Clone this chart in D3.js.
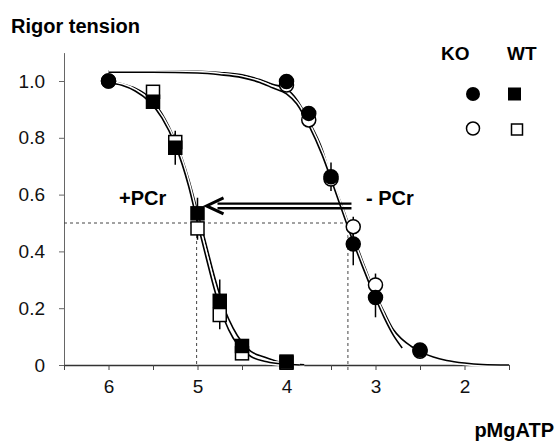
<!DOCTYPE html>
<html lang="en">
<head>
<meta charset="utf-8">
<title>Rigor tension vs pMgATP</title>
<script src="https://d3js.org/d3.v7.min.js"></script>
<style>
  body { margin: 0; background: #fff; }
  text { font-family: "Liberation Sans", Arial, sans-serif; }
</style>
</head>
<body>
<svg width="559" height="447"></svg>
<script>
// ---- data ----
var xTicks = [6.5, 6, 5.5, 5, 4.5, 4, 3.5, 3, 2.5, 2, 1.5];
var xLabels = [6, 5, 4, 3, 2];
var yTicks = [0, 0.2, 0.4, 0.6, 0.8, 1.0];

// +PCr (squares)
var sqFillP = [5.5, 5.25, 5.0, 4.75, 4.5, 4.0];
var sqFillV = [0.927, 0.765, 0.534, 0.226, 0.067, 0.012];
var sqFillE = [0.01, 0.06, 0.055, 0.075, 0.02, 0];
var sqOpenP = [5.5, 5.25, 5.0, 4.75, 4.5, 4.0];
var sqOpenV = [0.962, 0.785, 0.481, 0.176, 0.041, 0.008];
var sqOpenE = [0, 0.03, 0.04, 0.05, 0.01, 0];

// -PCr (circles)
var ciFillP = [6.0, 4.0, 3.75, 3.5, 3.25, 3.0, 2.5];
var ciFillV = [1.0, 0.998, 0.886, 0.663, 0.426, 0.238, 0.053];
var ciFillE = [0, 0, 0.01, 0.05, 0.075, 0.07, 0];
var ciOpenP = [6.0, 4.0, 3.75, 3.5, 3.25, 3.0, 2.5];
var ciOpenV = [1.0, 0.986, 0.863, 0.655, 0.487, 0.282, 0.048];
var ciOpenE = [0, 0, 0, 0, 0.035, 0.04, 0];

// fitted curves (traced)
var fitL1 = [[6.0,1.0],[5.85,0.99],[5.7,0.975],[5.55,0.945],[5.4,0.885],[5.25,0.79],[5.1,0.655],[5.0,0.54],[4.9,0.42],[4.8,0.3],[4.7,0.2],[4.6,0.13],[4.5,0.08],[4.4,0.048],[4.25,0.028],[4.1,0.012],[3.95,0.004],[3.8,0.001]];
var fitL2 = [[6.0,0.995],[5.85,0.985],[5.7,0.965],[5.55,0.93],[5.4,0.87],[5.25,0.775],[5.1,0.63],[5.0,0.5],[4.9,0.375],[4.8,0.255],[4.7,0.16],[4.6,0.095],[4.5,0.055],[4.4,0.03],[4.25,0.013],[4.1,0.005],[3.95,0.002],[3.85,0.0]];
var fitR1 = [[6.0,1.036],[5.5,1.036],[5.0,1.034],[4.75,1.03],[4.5,1.022],[4.3,1.005],[4.15,0.988],[4.0,0.972],[3.886,0.935],[3.75,0.86],[3.6,0.76],[3.5,0.66],[3.4,0.58],[3.27,0.47],[3.15,0.37],[3.0,0.25],[2.9,0.185],[2.8,0.125],[2.7,0.09],[2.6,0.066],[2.5,0.047],[2.35,0.028],[2.2,0.016],[2.0,0.007],[1.8,0.002],[1.5,0.0]];
var fitR2 = [[6.0,1.031],[5.5,1.031],[5.0,1.028],[4.75,1.022],[4.5,1.012],[4.3,0.995],[4.15,0.975],[4.0,0.955],[3.886,0.92],[3.75,0.845],[3.6,0.74],[3.5,0.655],[3.4,0.565],[3.27,0.45],[3.15,0.35],[3.0,0.235],[2.9,0.165],[2.8,0.105],[2.7,0.06]];

var halfP = [5.01, 3.31];   // pMgATP at half tension
var arrowP = [3.27, 4.91];  // arrow from -> to
var arrowV = 0.56;

// ---- scales ----
var svg = d3.select("svg");
var x = d3.scaleLinear().domain([6.5, 1.5]).range([64, 509]);
var y = d3.scaleLinear().domain([0, 1.1]).range([365, 52.6]);

// axes
var yAxis = svg.append("g")
    .attr("transform", "translate(64,0)")
    .call(d3.axisLeft(y).tickValues(yTicks).tickSize(5).tickSizeOuter(0)
        .tickFormat(function (d) { return d === 0 ? "0" : d3.format(".1f")(d); }));
yAxis.select(".domain").attr("stroke", "#666");
yAxis.selectAll(".tick line").attr("stroke", "#666");
yAxis.selectAll(".tick text").attr("font-size", 19).attr("fill", "#111").attr("x", -19)
    .attr("font-family", "Liberation Sans, Arial, sans-serif");

var xAxis = svg.append("g")
    .attr("transform", "translate(0,365)")
    .call(d3.axisBottom(x).tickValues(xTicks).tickSize(5).tickSizeOuter(0)
        .tickFormat(function (d) { return xLabels.indexOf(d) >= 0 ? d : ""; }));
xAxis.select(".domain").attr("stroke", "#333").attr("stroke-width", 1.5);
xAxis.selectAll(".tick line").attr("stroke", "#444");
xAxis.selectAll(".tick text").attr("font-size", 19).attr("fill", "#111").attr("y", 15)
    .attr("font-family", "Liberation Sans, Arial, sans-serif");

// dashed guides
var guide = svg.append("g").attr("stroke", "#444").attr("stroke-dasharray", "3,3").attr("stroke-width", 1);
guide.append("line").attr("x1", x(6.5)).attr("x2", x(halfP[1])).attr("y1", y(0.5)).attr("y2", y(0.5));
guide.append("line").attr("x1", x(halfP[0])).attr("x2", x(halfP[0])).attr("y1", y(0.5)).attr("y2", y(0));
guide.append("line").attr("x1", x(halfP[1])).attr("x2", x(halfP[1])).attr("y1", y(0.5)).attr("y2", y(-0.02));

// fitted curves with white halo
var line = d3.line().x(function (d) { return x(d[0]); }).y(function (d) { return y(d[1]); })
    .curve(d3.curveMonotoneX);
[fitR1, fitR2, fitL1, fitL2].forEach(function (c) {
    svg.append("path").attr("d", line(c)).attr("fill", "none").attr("stroke", "#fff").attr("stroke-width", 4.5);
    svg.append("path").attr("d", line(c)).attr("fill", "none").attr("stroke", "#000").attr("stroke-width", 1.6);
});

// points
function pts(P, V, E) { return P.map(function (p, i) { return { p: p, v: V[i], e: E[i] }; }); }
function errBars(data) {
    svg.append("g").selectAll("line").data(data.filter(function (d) { return d.e > 0; })).enter()
        .append("line")
        .attr("x1", function (d) { return x(d.p); }).attr("x2", function (d) { return x(d.p); })
        .attr("y1", function (d) { return y(d.v + d.e); }).attr("y2", function (d) { return y(d.v - d.e); })
        .attr("stroke", "#000").attr("stroke-width", 1.5);
}
function squares(data, fill) {
    svg.append("g").selectAll("rect").data(data).enter().append("rect")
        .attr("x", function (d) { return x(d.p) - 6.5; }).attr("y", function (d) { return y(d.v) - 6.5; })
        .attr("width", 13).attr("height", 13)
        .attr("fill", fill).attr("stroke", "#000").attr("stroke-width", 1.5);
}
function circles(data, fill) {
    svg.append("g").selectAll("circle").data(data).enter().append("circle")
        .attr("cx", function (d) { return x(d.p); }).attr("cy", function (d) { return y(d.v); })
        .attr("r", 7).attr("fill", fill).attr("stroke", "#000").attr("stroke-width", 1.5);
}
var so = pts(sqOpenP, sqOpenV, sqOpenE), sf = pts(sqFillP, sqFillV, sqFillE);
var co = pts(ciOpenP, ciOpenV, ciOpenE), cf = pts(ciFillP, ciFillV, ciFillE);
errBars(so); errBars(sf); errBars(co); errBars(cf);
circles(co, "#fff");
squares(so, "#fff");
squares(sf, "#000");
circles(cf, "#000");

// arrow
var arr = svg.append("g").attr("stroke", "#000").attr("stroke-width", 2.4).attr("fill", "none");
arr.append("line").attr("x1", x(arrowP[0])).attr("x2", x(arrowP[1]) + 12).attr("y1", y(arrowV) - 2.3).attr("y2", y(arrowV) - 2.3);
arr.append("line").attr("x1", x(arrowP[0])).attr("x2", x(arrowP[1]) + 12).attr("y1", y(arrowV) + 2.3).attr("y2", y(arrowV) + 2.3);
arr.append("path")
    .attr("d", "M" + (x(arrowP[1]) + 18) + "," + (y(arrowV) - 8) + " L" + (x(arrowP[1]) + 1) + "," + y(arrowV) +
        " L" + (x(arrowP[1]) + 18) + "," + (y(arrowV) + 8))
    .attr("stroke-width", 3).attr("stroke-linejoin", "miter");

// labels
svg.append("text").attr("x", 11).attr("y", 33).attr("font-size", 20).attr("font-weight", "bold").text("Rigor tension");
svg.append("text").attr("x", 554).attr("y", 437).attr("text-anchor", "end").attr("font-size", 20).attr("font-weight", "bold").text("pMgATP");
svg.append("text").attr("x", 119).attr("y", 205).attr("font-size", 20).attr("font-weight", "bold").text("+PCr");
svg.append("text").attr("x", 366).attr("y", 205).attr("font-size", 20).attr("font-weight", "bold").text("- PCr");

// legend
svg.append("text").attr("x", 441).attr("y", 60).attr("font-size", 19).attr("font-weight", "bold").text("KO");
svg.append("text").attr("x", 507).attr("y", 60).attr("font-size", 19).attr("font-weight", "bold").text("WT");
svg.append("circle").attr("cx", 473).attr("cy", 94).attr("r", 7).attr("fill", "#000");
svg.append("rect").attr("x", 508).attr("y", 87.5).attr("width", 13).attr("height", 13).attr("fill", "#000");
svg.append("circle").attr("cx", 473).attr("cy", 128.5).attr("r", 6.5).attr("fill", "#fff").attr("stroke", "#000").attr("stroke-width", 1.5);
svg.append("rect").attr("x", 511.5).attr("y", 124).attr("width", 11).attr("height", 11).attr("fill", "#fff").attr("stroke", "#000").attr("stroke-width", 1.5);
</script>
</body>
</html>
